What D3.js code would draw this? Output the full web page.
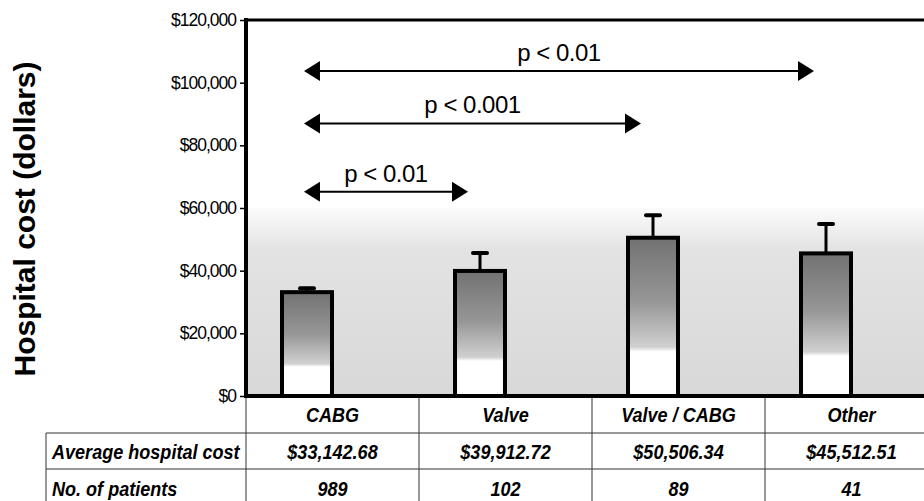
<!DOCTYPE html>
<html>
<head>
<meta charset="utf-8">
<script src="https://cdn.jsdelivr.net/npm/d3@7"></script>
<style>
  body { margin: 0; background: #fff; }
  svg { display: block; font-family: "Liberation Sans", Arial, sans-serif; }
</style>
</head>
<body>
<script>
// values
const categories = ['CABG', 'Valve', 'Valve / CABG', 'Other'];
const avgCost = [33142.68, 39912.72, 50506.34, 45512.51];
const errTop = [34400, 45600, 57700, 54900];
const patients = [989, 102, 89, 41];
const yTicks = [0, 20000, 40000, 60000, 80000, 100000, 120000];
const compTo = ['Valve', 'Valve / CABG', 'Other'];
const compLabel = ['p < 0.01', 'p < 0.001', 'p < 0.01'];
const compLevel = [65200, 87000, 103700];
const rowLabels = ['Average hospital cost', 'No. of patients'];

const W = 924, H = 501;
const plot = {left: 246, top: 20, bottom: 396, right: 924};

const svg = d3.select('body')
    .append('svg')
    .attr('width', W)
    .attr('height', H);

const defs = svg.append('defs');

const bg = defs.append('linearGradient')
    .attr('id', 'bgGrad')
    .attr('x1', 0).attr('y1', 0).attr('x2', 0).attr('y2', 1);
bg.append('stop').attr('offset', '0%').attr('stop-color', '#fbfbfb');
bg.append('stop').attr('offset', '22%').attr('stop-color', '#e3e3e3');
bg.append('stop').attr('offset', '100%').attr('stop-color', '#d8d8d8');

const barGrad = defs.append('linearGradient')
    .attr('id', 'barGrad')
    .attr('x1', 0).attr('y1', 0).attr('x2', 0).attr('y2', 1);
barGrad.append('stop').attr('offset', '0%').attr('stop-color', '#727272');
barGrad.append('stop').attr('offset', '40%').attr('stop-color', '#969696');
barGrad.append('stop').attr('offset', '69%').attr('stop-color', '#d0d0d0');
barGrad.append('stop').attr('offset', '72%').attr('stop-color', '#ffffff');
barGrad.append('stop').attr('offset', '100%').attr('stop-color', '#ffffff');

const yScale = d3.scaleLinear()
    .domain([0, 120000])
    .range([plot.bottom, plot.top]);

// columns of the table; bars sit left of each column centre
const xScale = d3.scaleBand()
    .domain(categories)
    .range([plot.left, plot.left + 173 * 4]);

const barOffset = 36, barWidth = 50;
const barCenter = c => xScale(c) + barOffset + barWidth / 2;

// stippled background of the plot
svg.append('rect')
    .attr('x', plot.left)
    .attr('y', yScale(60000))
    .attr('width', plot.right - plot.left)
    .attr('height', yScale(0) - yScale(60000))
    .attr('fill', 'url(#bgGrad)');

// bars
const data = categories.map((c, i) => ({cat: c, cost: avgCost[i], err: errTop[i], n: patients[i]}));

const errG = svg.append('g');
errG.selectAll('line')
    .data(data)
    .enter().append('line')
    .attr('x1', d => barCenter(d.cat))
    .attr('x2', d => barCenter(d.cat))
    .attr('y1', d => yScale(d.cost))
    .attr('y2', d => yScale(d.err))
    .attr('stroke', '#000')
    .attr('stroke-width', 3);

errG.selectAll('.cap')
    .data(data)
    .enter().append('line')
    .attr('class', 'cap')
    .attr('x1', d => barCenter(d.cat) - 7)
    .attr('x2', d => barCenter(d.cat) + 7)
    .attr('y1', d => yScale(d.err))
    .attr('y2', d => yScale(d.err))
    .attr('stroke', '#000')
    .attr('stroke-width', 4)
    .attr('stroke-linecap', 'round');

svg.append('g')
    .selectAll('rect')
    .data(data)
    .enter().append('rect')
    .attr('x', d => xScale(d.cat) + barOffset)
    .attr('y', d => yScale(d.cost))
    .attr('width', barWidth)
    .attr('height', d => yScale(0) - yScale(d.cost))
    .attr('fill', 'url(#barGrad)')
    .attr('stroke', '#000')
    .attr('stroke-width', 4);

// y axis
const yAxis = d3.axisLeft(yScale)
    .tickValues(yTicks)
    .tickFormat(d3.format('$,.0f'))
    .tickSize(6)
    .tickPadding(4);

const yAxisG = svg.append('g')
    .attr('transform', `translate(${plot.left},0)`)
    .call(yAxis);

yAxisG.select('.domain').remove();
yAxisG.selectAll('.tick line').attr('stroke', '#000').attr('stroke-width', 1.5);
yAxisG.selectAll('.tick text')
    .attr('fill', '#000')
    .style('font-size', '17.5px')
    .style('letter-spacing', '-1px');

// frame lines
svg.append('line')
    .attr('x1', plot.left).attr('x2', plot.left)
    .attr('y1', plot.top - 2).attr('y2', plot.bottom + 2)
    .attr('stroke', '#000').attr('stroke-width', 4);
svg.append('line')
    .attr('x1', plot.left - 2).attr('x2', plot.right)
    .attr('y1', plot.top).attr('y2', plot.top)
    .attr('stroke', '#000').attr('stroke-width', 3);
svg.append('line')
    .attr('x1', plot.left - 2).attr('x2', plot.right)
    .attr('y1', plot.bottom).attr('y2', plot.bottom)
    .attr('stroke', '#000').attr('stroke-width', 4);

svg.append('text')
    .attr('transform', `translate(35,${(62 + 376) / 2}) rotate(-90)`)
    .attr('text-anchor', 'middle')
    .style('font-size', '30px')
    .style('font-weight', 'bold')
    .text('Hospital cost (dollars)');

// significance arrows
const comps = compTo.map((t, i) => ({from: 'CABG', to: t, label: compLabel[i], level: compLevel[i]}));

const compG = svg.append('g')
    .selectAll('g')
    .data(comps)
    .enter().append('g');

const headLen = 16, headHalf = 10;

compG.append('line')
    .attr('x1', d => barCenter(d.from) - 3 + headLen)
    .attr('x2', d => barCenter(d.to) - 12 - headLen)
    .attr('y1', d => yScale(d.level))
    .attr('y2', d => yScale(d.level))
    .attr('stroke', '#000')
    .attr('stroke-width', 2);

compG.append('path')
    .attr('d', d => {
        const x = barCenter(d.from) - 3, y = yScale(d.level);
        return `M${x},${y}L${x + headLen},${y - headHalf}L${x + headLen},${y + headHalf}Z`;
    });

compG.append('path')
    .attr('d', d => {
        const x = barCenter(d.to) - 12, y = yScale(d.level);
        return `M${x},${y}L${x - headLen},${y - headHalf}L${x - headLen},${y + headHalf}Z`;
    });

compG.append('text')
    .attr('x', d => (barCenter(d.from) + barCenter(d.to) - 15) / 2)
    .attr('y', d => yScale(d.level) - 10)
    .attr('text-anchor', 'middle')
    .style('font-size', '24px')
    .style('letter-spacing', '-0.5px')
    .text(d => d.label);

// table under the chart
const tableLeft = 46;
const rowLine1 = 433, rowLine2 = 469;

const grid = svg.append('g')
    .attr('stroke', '#333')
    .attr('stroke-width', 1);

grid.append('line')
    .attr('x1', tableLeft).attr('x2', plot.right)
    .attr('y1', rowLine1).attr('y2', rowLine1);
grid.append('line')
    .attr('x1', tableLeft).attr('x2', plot.right)
    .attr('y1', rowLine2).attr('y2', rowLine2);
grid.append('line')
    .attr('x1', tableLeft).attr('x2', tableLeft)
    .attr('y1', rowLine1).attr('y2', H);

grid.selectAll('.col')
    .data(categories)
    .enter().append('line')
    .attr('class', 'col')
    .attr('x1', d => xScale(d)).attr('x2', d => xScale(d))
    .attr('y1', plot.bottom + 2).attr('y2', H);

const squeeze = 'scale(0.86,1)';
const cellText = (g, x, y, str, anchor) => g.append('text')
    .attr('transform', `translate(${x},${y}) ${squeeze}`)
    .attr('text-anchor', anchor)
    .style('font-size', '21px')
    .style('font-weight', 'bold')
    .style('font-style', 'italic')
    .text(str);

const tbl = svg.append('g');
const fmtCost = d3.format('$,.2f');
const colMid = c => xScale(c) + xScale.bandwidth() / 2;

data.forEach(d => {
    cellText(tbl, colMid(d.cat), 422, d.cat, 'middle');
    cellText(tbl, colMid(d.cat), 459, fmtCost(d.cost), 'middle');
    cellText(tbl, colMid(d.cat), 496, d.n, 'middle');
});

cellText(tbl, 52, 459, rowLabels[0], 'start');
cellText(tbl, 52, 496, rowLabels[1], 'start');
</script>
</body>
</html>
